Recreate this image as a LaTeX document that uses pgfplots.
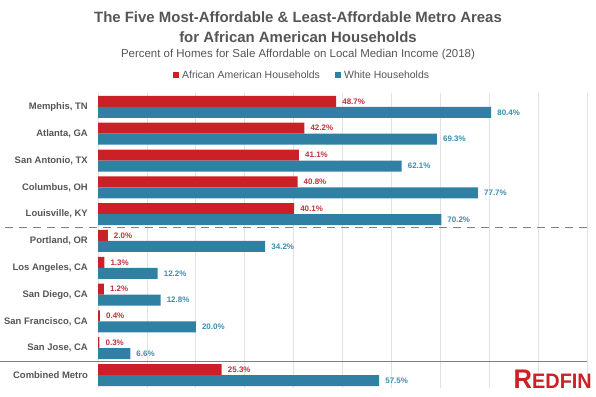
\documentclass[border=0pt]{standalone}
\usepackage{pgfplots}
\pgfplotsset{compat=1.18}
\usepackage{fontspec}
\setmainfont{Liberation Sans}
\definecolor{rfred}{HTML}{CC2027}
\definecolor{rfblue}{HTML}{2F80A2}
\definecolor{rflabred}{HTML}{C0303A}
\definecolor{rflabblue}{HTML}{3A8DAE}
\definecolor{txt}{HTML}{555555}
\definecolor{gridc}{HTML}{E2E2E2}
\definecolor{sepc}{HTML}{808080}
\begin{document}
\begin{tikzpicture}[x=1bp,y=1bp]
\path[use as bounding box] (0,0) rectangle (596,396);
\node[font=\fontsize{15}{17}\selectfont\bfseries, text=txt] at (298,379) {The Five Most-Affordable \& Least-Affordable Metro Areas};
\node[font=\fontsize{15}{17}\selectfont\bfseries, text=txt] at (298,359) {for African American Households};
\node[font=\fontsize{11.5}{13}\selectfont, text=txt] at (298,341) {Percent of Homes for Sale Affordable on Local Median Income (2018)};
\fill[rfred] (173,318) rectangle (179,324);
\node[font=\fontsize{10.5}{12}\selectfont, text=txt, anchor=west, inner sep=0pt] at (182,321) {African American Households};
\fill[rfblue] (335,318) rectangle (341,324);
\node[font=\fontsize{10.5}{12}\selectfont, text=txt, anchor=west, inner sep=0pt] at (344,321) {White Households};
\begin{axis}[at={(98bp,8bp)}, anchor=south west, scale only axis,
  width=489bp, height=295bp,
  xbar, xmin=0, xmax=100, ymin=-0.485, ymax=10.52,
  clip=false,
  axis line style={draw=none},
  major tick length=0pt,
  xtick={0,10,...,100}, xticklabels={},
  xmajorgrids, grid style={gridc, line width=0.8pt},
  ytick={0,...,10},
  yticklabels={{Combined Metro},{San Jose, CA},{San Francisco, CA},{San Diego, CA},{Los Angeles, CA},{Portland, OR},{Louisville, KY},{Columbus, OH},{San Antonio, TX},{Atlanta, GA},{Memphis, TN}},
  yticklabel style={font=\fontsize{9.5}{11}\selectfont\bfseries, text=txt, inner sep=0pt, xshift=-10bp},
  bar width=11bp,
  /pgf/number format/assume math mode=true,
  nodes near coords={\pgfmathprintnumber[fixed,fixed zerofill,precision=1,assume math mode=true]{\pgfplotspointmeta}\%},
  nodes near coords align={horizontal},
  every node near coord/.append style={font=\fontsize{8}{9.5}\selectfont\bfseries, anchor=west, inner sep=0pt, xshift=6bp},
]
\addplot[fill=rfred, draw=none, bar shift=5.5bp, every node near coord/.append style={text=rflabred}]
 coordinates {(25.3,0) (0.3,1) (0.4,2) (1.2,3) (1.3,4) (2.0,5) (40.1,6) (40.8,7) (41.1,8) (42.2,9) (48.7,10)};
\addplot[fill=rfblue, draw=none, bar shift=-5.5bp, every node near coord/.append style={text=rflabblue}]
 coordinates {(57.5,0) (6.6,1) (20.0,2) (12.8,3) (12.2,4) (34.2,5) (70.2,6) (77.7,7) (62.1,8) (69.3,9) (80.4,10)};
\draw[sepc, line width=1.6pt, dash pattern=on 8bp off 6bp] (axis cs:-19,5.5) -- (axis cs:100,5.5);
\draw[sepc, line width=1.6pt] (axis cs:-20,0.5) -- (axis cs:100,0.5);
\end{axis}
\node[anchor=base east, inner sep=0pt, text=rfred, font=\bfseries, xscale=0.95] at (592,8) {{\fontsize{27}{27}\selectfont R}{\fontsize{21}{21}\selectfont EDFIN}};
\end{tikzpicture}
\end{document}
